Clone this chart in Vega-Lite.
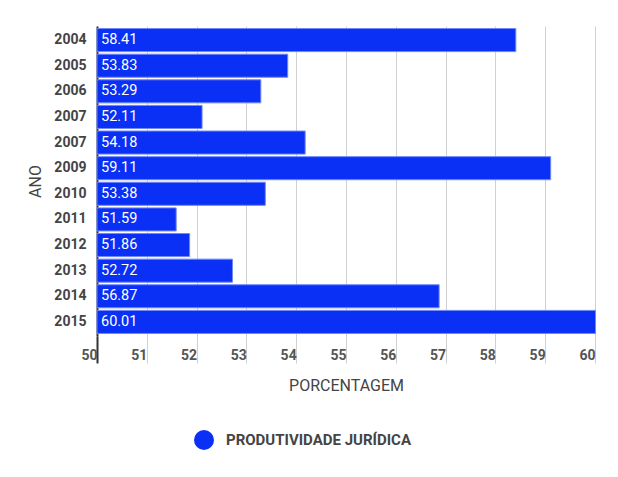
{
  "$schema": "https://vega.github.io/schema/vega-lite/v6.json",
  "width": 498,
  "height": 310,
  "autosize": "none",
  "padding": {"left": 97, "top": 26, "right": 23, "bottom": 141},
  "background": "#ffffff",
  "config": {
    "font": "Roboto",
    "view": {"stroke": null}
  },
  "data": {
    "values": [
      {"ordem": 1, "ano": "2004", "valor": 58.41, "serie": "PRODUTIVIDADE JURÍDICA"},
      {"ordem": 2, "ano": "2005", "valor": 53.83, "serie": "PRODUTIVIDADE JURÍDICA"},
      {"ordem": 3, "ano": "2006", "valor": 53.29, "serie": "PRODUTIVIDADE JURÍDICA"},
      {"ordem": 4, "ano": "2007", "valor": 52.11, "serie": "PRODUTIVIDADE JURÍDICA"},
      {"ordem": 5, "ano": "2007 ", "valor": 54.18, "serie": "PRODUTIVIDADE JURÍDICA"},
      {"ordem": 6, "ano": "2009", "valor": 59.11, "serie": "PRODUTIVIDADE JURÍDICA"},
      {"ordem": 7, "ano": "2010", "valor": 53.38, "serie": "PRODUTIVIDADE JURÍDICA"},
      {"ordem": 8, "ano": "2011", "valor": 51.59, "serie": "PRODUTIVIDADE JURÍDICA"},
      {"ordem": 9, "ano": "2012", "valor": 51.86, "serie": "PRODUTIVIDADE JURÍDICA"},
      {"ordem": 10, "ano": "2013", "valor": 52.72, "serie": "PRODUTIVIDADE JURÍDICA"},
      {"ordem": 11, "ano": "2014", "valor": 56.87, "serie": "PRODUTIVIDADE JURÍDICA"},
      {"ordem": 12, "ano": "2015", "valor": 60.01, "serie": "PRODUTIVIDADE JURÍDICA"}
    ]
  },
  "encoding": {
    "y": {
      "field": "ano",
      "type": "ordinal",
      "sort": {"field": "ordem", "op": "min", "order": "ascending"},
      "scale": {"paddingInner": 0.1, "paddingOuter": 0.1},
      "axis": {
        "title": "ANO",
        "titleFont": "Roboto",
        "titleFontSize": 16,
        "titleFontWeight": "normal",
        "titleColor": "#444444",
        "titlePadding": 10,
        "labelExpr": "trim(datum.label)",
        "labelFont": "Roboto",
        "labelFontSize": 14,
        "labelFontWeight": "bold",
        "labelColor": "#444444",
        "labelPadding": 11,
        "ticks": false,
        "domain": true,
        "domainColor": "#333333",
        "domainWidth": 2,
        "grid": false
      }
    }
  },
  "layer": [
    {
      "mark": {"type": "bar", "stroke": "#7088f8", "strokeWidth": 1},
      "encoding": {
        "x": {
          "field": "valor",
          "type": "quantitative",
          "scale": {"domain": [50, 60], "zero": false, "nice": false},
          "axis": {
            "title": "PORCENTAGEM",
            "titleFont": "Roboto",
            "titleFontSize": 16,
            "titleFontWeight": "normal",
            "titleColor": "#444444",
            "titlePadding": 13,
            "values": [50, 51, 52, 53, 54, 55, 56, 57, 58, 59, 60],
            "labelFont": "Roboto",
            "labelFontSize": 14,
            "labelFontWeight": "bold",
            "labelColor": "#555555",
            "labelAlign": "right",
            "labelDx": -6,
            "labelPadding": -15,
            "labelFlush": false,
            "domain": false,
            "grid": true,
            "gridColor": "#d0d0d0",
            "gridWidth": 1,
            "ticks": true,
            "tickSize": 27,
            "tickColor": {"condition": {"test": "datum.value == 50", "value": "#333333"}, "value": "#d0d0d0"},
            "tickWidth": {"condition": {"test": "datum.value == 50", "value": 2}, "value": 1}
          }
        },
        "x2": {"datum": 50},
        "color": {
          "field": "serie",
          "type": "nominal",
          "scale": {"range": ["#0a2ff5"]},
          "legend": {
            "title": null,
            "orient": "none",
            "legendX": 97,
            "legendY": 404,
            "padding": 0,
            "symbolType": "circle",
            "symbolSize": 400,
            "symbolStrokeWidth": 0,
            "symbolOpacity": 1,
            "labelFont": "Roboto",
            "labelFontSize": 15,
            "labelFontWeight": "bold",
            "labelColor": "#444444",
            "labelOffset": 12,
            "labelLimit": 400
          }
        }
      }
    },
    {
      "mark": {"type": "text", "align": "left", "baseline": "middle", "dx": 4, "color": "#ffffff", "font": "Roboto", "fontSize": 14.5},
      "encoding": {
        "x": {"datum": 50, "type": "quantitative"},
        "text": {"field": "valor", "type": "quantitative", "format": ".2f"}
      }
    }
  ]
}
